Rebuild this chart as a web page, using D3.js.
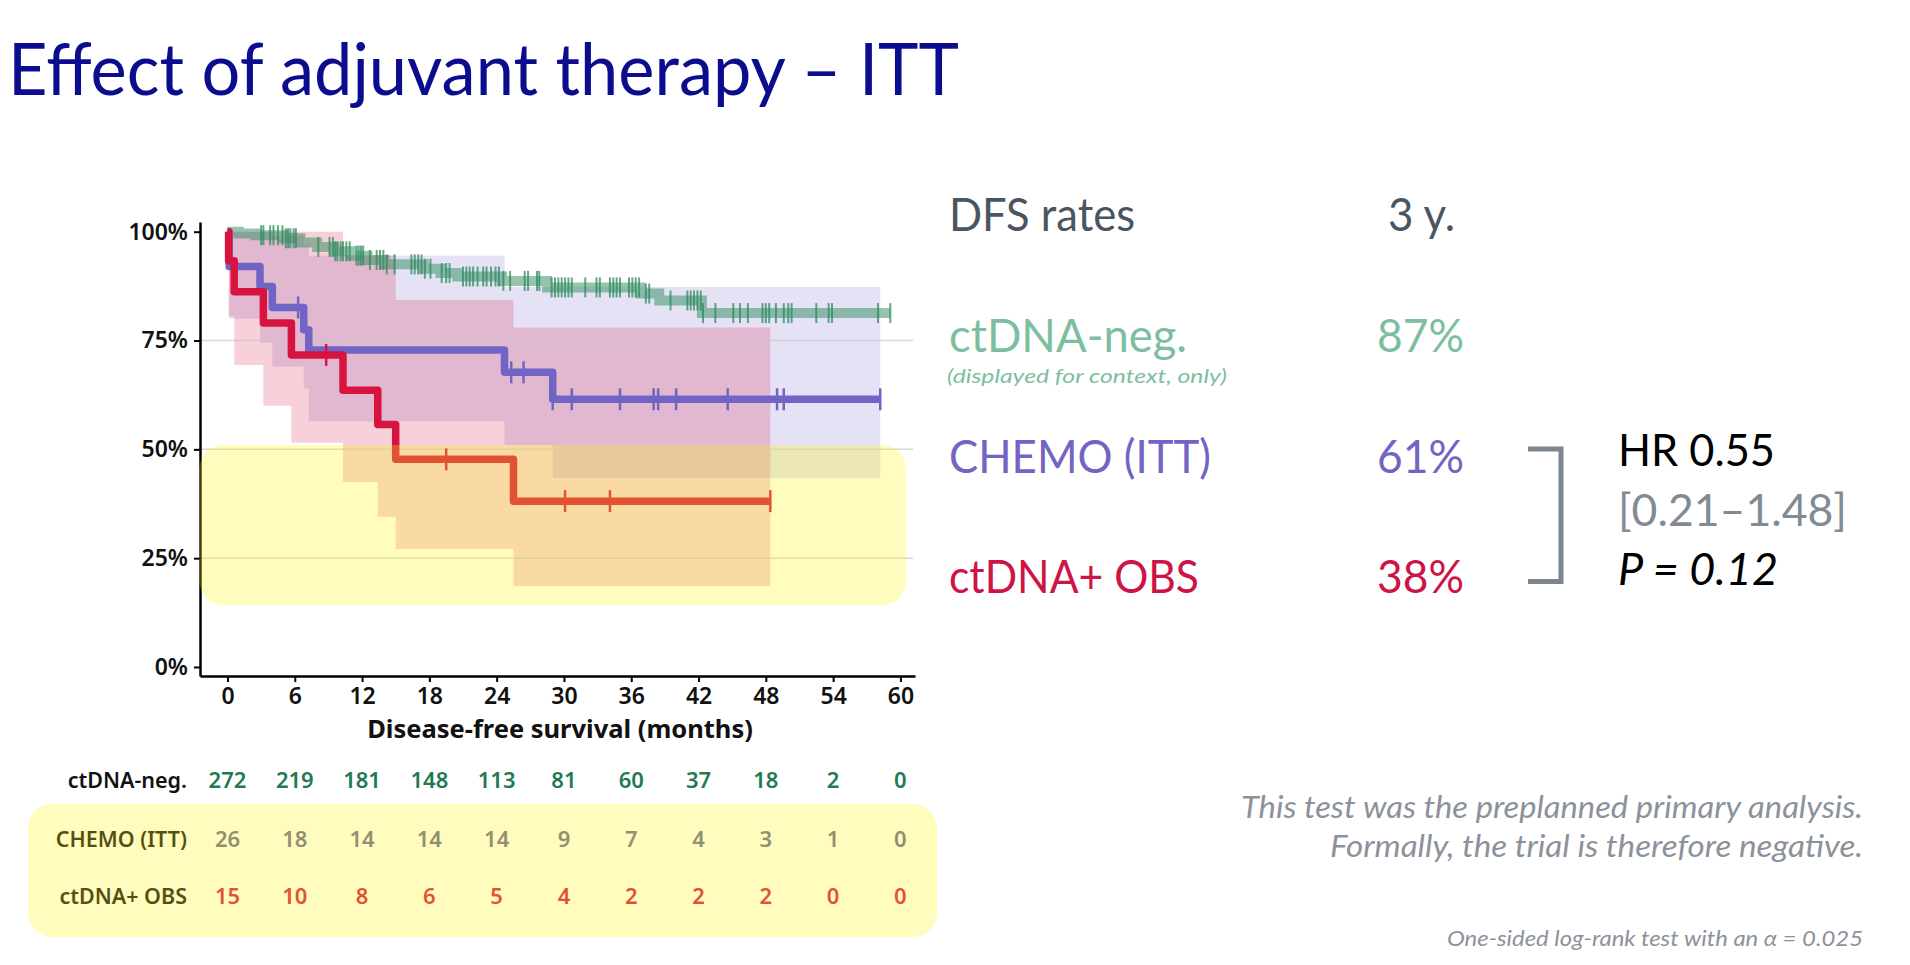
<!DOCTYPE html>
<html>
<head>
<meta charset="utf-8">
<script src="https://cdn.jsdelivr.net/npm/d3@7/dist/d3.min.js"></script>
<style>
  html, body { margin: 0; padding: 0; background: #ffffff; }
  svg { display: block; }
</style>
</head>
<body>
<svg id="chart" width="1910" height="965"></svg>
<script>
// ---------------- DATA ----------------
const monthTicks = [0, 6, 12, 18, 24, 30, 36, 42, 48, 54, 60];
const yTicks = [0, 0.25, 0.5, 0.75, 1];
const gridValues = [0.25, 0.5, 0.75];

// ctDNA-negative (context) KM curve
const negTimes = [0, 1.0, 2.5, 5.0, 6.5, 8.0, 9.5, 11.0, 12.5, 14.0, 17.5, 19.0, 20.5, 24.5, 28.5, 36.8, 38.5, 42.3];
const negSurv  = [1, 0.996, 0.992, 0.985, 0.975, 0.965, 0.955, 0.945, 0.935, 0.925, 0.915, 0.905, 0.897, 0.887, 0.872, 0.858, 0.842, 0.813];
const negEnd = 59.1;
const negCensor = [3.0, 3.2, 3.8, 4.1, 4.5, 4.9, 5.2, 5.4, 5.6, 5.9, 6.1, 8.1, 9.1, 9.4, 9.6, 9.8, 10.1, 10.3, 10.6, 10.9,
  11.5, 11.7, 11.9, 12.1, 12.7, 13.3, 13.6, 13.9, 14.2, 14.9, 16.4, 16.7, 17.0, 17.3, 17.6, 18.1, 19.1, 19.5, 19.8,
  21.0, 21.3, 21.6, 21.9, 22.3, 22.8, 23.1, 23.5, 23.9, 24.2, 24.6, 25.2, 26.5, 26.8, 27.6, 27.8, 28.9, 29.2, 29.5,
  29.8, 30.1, 30.4, 30.7, 31.9, 32.9, 33.2, 34.1, 34.4, 34.7, 35.0, 35.8, 36.1, 36.4, 36.7, 37.3, 37.6, 39.5, 41.0,
  41.3, 41.6, 41.9, 42.2, 42.4, 43.5, 45.1, 45.7, 46.4, 47.7, 48.0, 48.3, 48.9, 49.6, 50.0, 50.3, 52.5, 53.6, 53.9,
  58.0, 59.1];

// CHEMO (ITT) KM curve with CI
const chemoTimes = [0, 0.15, 2.9, 4.0, 6.8, 7.25, 24.7, 29.0];
const chemoSurv  = [1, 0.92, 0.874, 0.826, 0.775, 0.728, 0.677, 0.615];
const chemoUpper = [1, 1, 1, 0.99, 0.97, 0.945, 0.873, 0.873];
const chemoLower = [1, 0.80, 0.745, 0.69, 0.64, 0.564, 0.51, 0.434];
const chemoEnd = 58.2;
const chemoCensor = [6.3, 25.3, 26.4, 29.0, 30.7, 35.0, 38.0, 38.4, 40.0, 44.6, 49.0, 49.6, 58.2];

// ctDNA+ OBS KM curve with CI
const obsTimes = [0, 0.1, 0.6, 3.2, 5.7, 10.3, 13.4, 15.0, 25.5];
const obsSurv  = [1, 0.933, 0.862, 0.79, 0.717, 0.636, 0.557, 0.477, 0.381];
const obsUpper = [1, 1, 1, 1, 1, 0.946, 0.946, 0.843, 0.78];
const obsLower = [1, 0.805, 0.694, 0.60, 0.515, 0.425, 0.345, 0.271, 0.186];
const obsEnd = 48.4;
const obsCensor = [8.8, 19.5, 30.1, 34.1, 48.4];

// Numbers at risk
const riskLabels = ["ctDNA-neg.", "CHEMO (ITT)", "ctDNA+ OBS"];
const riskNeg   = [272, 219, 181, 148, 113, 81, 60, 37, 18, 2, 0];
const riskChemo = [26, 18, 14, 14, 14, 9, 7, 4, 3, 1, 0];
const riskObs   = [15, 10, 8, 6, 5, 4, 2, 2, 2, 0, 0];

// Right panel
const dfsGroups = ["ctDNA-neg.", "CHEMO (ITT)", "ctDNA+ OBS"];
const dfs3y = [0.87, 0.61, 0.38];
const hrLines = ["HR 0.55", "[0.21\u20131.48]", "P = 0.12"];
const notes = ["This test was the preplanned primary analysis.", "Formally, the trial is therefore negative."];
const footnote = "One-sided log-rank test with an \u03b1 = 0.025";

// highlight region (data units)
const highlight = { t0: -2.5, t1: 60.5, s0: 0.142, s1: 0.51 };

// ---------------- STYLE ----------------
const C = {
  green: "#2e8b5e", purple: "#7064c4", red: "#d6143f",
  greenText: "#7dbea0", purpleText: "#7364c3", redText: "#cd1446",
  gray: "#4b555f", bracket: "#7d858f", hrGray: "#828a94", note: "#8c929b",
  title: "#0c0c8e", yellow: "rgb(255,245,20)"
};
const chartFont = "'Noto Sans', 'DejaVu Sans', sans-serif";
const slideFont = "Lato, 'Open Sans', sans-serif";

const svg = d3.select("#chart");
svg.append("rect").attr("width", 1910).attr("height", 965).attr("fill", "#fff");

function addText(x, y, str, o) {
  const t = svg.append("text").attr("x", x).attr("y", y).text(str)
    .attr("font-family", o.family || slideFont)
    .attr("font-size", o.size)
    .attr("fill", o.fill || "#000")
    .attr("font-weight", o.weight || 400)
    .attr("font-style", o.style || "normal")
    .attr("text-anchor", o.anchor || "start");
  if (o.len) t.attr("textLength", o.len).attr("lengthAdjust", "spacingAndGlyphs");
  return t;
}
// Title
addText(8, 95, "Effect of adjuvant therapy \u2013 ITT", { size: 72, fill: C.title, len: 951 });

// ---------------- SCALES ----------------
const x = d3.scaleLinear().domain([-2.45, 61.3]).range([200, 915]);
const y = d3.scaleLinear().domain([-0.0207, 1.0223]).range([676, 222]);

const g = svg.append("g");

function pts(times, surv, end) {
  const p = times.map((t, i) => [t, surv[i]]);
  p.push([end, surv[surv.length - 1]]);
  return p;
}
function bandPts(times, lo, hi, end) {
  const p = times.map((t, i) => [t, lo[i], hi[i]]);
  p.push([end, lo[lo.length - 1], hi[hi.length - 1]]);
  return p;
}
function stepAt(times, surv, t) {
  const i = Math.max(0, d3.bisectRight(times, t) - 1);
  return surv[i];
}
const line = d3.line().x(d => x(d[0])).y(d => y(d[1])).curve(d3.curveStepAfter);
const area = d3.area().x(d => x(d[0])).y0(d => y(d[1])).y1(d => y(d[2])).curve(d3.curveStepAfter);

// CI bands
g.append("path").attr("d", area(bandPts(chemoTimes, chemoLower, chemoUpper, chemoEnd)))
  .attr("fill", C.purple).attr("fill-opacity", 0.19);
g.append("path").attr("d", area(bandPts(obsTimes, obsLower, obsUpper, obsEnd)))
  .attr("fill", C.red).attr("fill-opacity", 0.2);

// gridlines
g.selectAll("line.grid").data(gridValues).join("line").attr("class", "grid")
  .attr("x1", x.range()[0]).attr("x2", x.range()[1] - 2)
  .attr("y1", d => y(d)).attr("y2", d => y(d))
  .attr("stroke", "#c8c8c8").attr("stroke-opacity", 0.7).attr("stroke-width", 1.5);

// ctDNA-neg curve
g.append("path").attr("d", line(pts(negTimes, negSurv, negEnd)))
  .attr("fill", "none").attr("stroke", C.green).attr("stroke-opacity", 0.5)
  .attr("stroke-width", 10);
g.selectAll("line.negc").data(negCensor).join("line").attr("class", "negc")
  .attr("x1", d => x(d)).attr("x2", d => x(d))
  .attr("y1", d => y(stepAt(negTimes, negSurv, d)) - 10)
  .attr("y2", d => y(stepAt(negTimes, negSurv, d)) + 10)
  .attr("stroke", C.green).attr("stroke-opacity", 0.75).attr("stroke-width", 2);

// CHEMO curve
g.append("path").attr("d", line(pts(chemoTimes, chemoSurv, chemoEnd)))
  .attr("fill", "none").attr("stroke", C.purple).attr("stroke-width", 7.5)
  .attr("stroke-linejoin", "round");
g.selectAll("line.chc").data(chemoCensor).join("line").attr("class", "chc")
  .attr("x1", d => x(d)).attr("x2", d => x(d))
  .attr("y1", d => y(stepAt(chemoTimes, chemoSurv, d)) - 11)
  .attr("y2", d => y(stepAt(chemoTimes, chemoSurv, d)) + 11)
  .attr("stroke", C.purple).attr("stroke-width", 2.5);

// OBS curve
g.append("path").attr("d", line(pts(obsTimes, obsSurv, obsEnd)))
  .attr("fill", "none").attr("stroke", C.red).attr("stroke-width", 7.5)
  .attr("stroke-linejoin", "round");
g.selectAll("line.obc").data(obsCensor).join("line").attr("class", "obc")
  .attr("x1", d => x(d)).attr("x2", d => x(d))
  .attr("y1", d => y(stepAt(obsTimes, obsSurv, d)) - 11)
  .attr("y2", d => y(stepAt(obsTimes, obsSurv, d)) + 11)
  .attr("stroke", C.red).attr("stroke-width", 2.5);

// Axes
const yAxis = d3.axisLeft(y).tickValues(yTicks).tickFormat(d3.format(".0%"))
  .tickSize(6).tickPadding(6).tickSizeOuter(0);
const xAxis = d3.axisBottom(x).tickValues(monthTicks).tickFormat(d3.format("d"))
  .tickSize(6).tickPadding(6).tickSizeOuter(0);
const gy = g.append("g").attr("transform", "translate(200,0)").call(yAxis);
const gx = g.append("g").attr("transform", "translate(0,676)").call(xAxis);
[gx, gy].forEach(a => {
  a.select(".domain").attr("stroke", "#000").attr("stroke-width", 2.5);
  a.selectAll(".tick line").attr("stroke", "#000").attr("stroke-width", 2);
  a.selectAll(".tick text").attr("font-family", chartFont).attr("font-size", 23)
    .attr("font-weight", 600).attr("fill", "#111");
});
g.append("text").attr("x", 560).attr("y", 738).attr("text-anchor", "middle")
  .attr("font-family", chartFont).attr("font-size", 25.5).attr("font-weight", 700)
  .attr("fill", "#111").text("Disease-free survival (months)");

// Chart highlight overlay
g.append("rect")
  .attr("x", x(highlight.t0)).attr("y", y(highlight.s1))
  .attr("width", x(highlight.t1) - x(highlight.t0))
  .attr("height", y(highlight.s0) - y(highlight.s1))
  .attr("rx", 24).attr("ry", 24)
  .attr("fill", C.yellow).attr("fill-opacity", 0.28);

// ---------------- RISK TABLE ----------------
const riskRows = [riskNeg, riskChemo, riskObs];
const riskColors = ["#1f7a52", "rgb(105,105,150)", C.red];
const rowY = [788, 846.7, 904.3];
const tbl = svg.append("g");
riskLabels.forEach((lab, r) => {
  tbl.append("text").attr("x", 187).attr("y", rowY[r]).attr("text-anchor", "end")
    .attr("font-family", chartFont).attr("font-size", 21.5).attr("font-weight", 600)
    .attr("fill", "#111").text(lab);
  tbl.selectAll("text.n" + r).data(riskRows[r]).join("text").attr("class", "n" + r)
    .attr("x", (d, i) => x(monthTicks[i])).attr("y", rowY[r]).attr("text-anchor", "middle")
    .attr("font-family", chartFont).attr("font-size", 22).attr("font-weight", 600)
    .attr("fill", riskColors[r]).text(d => d);
});
tbl.append("rect").attr("x", 28).attr("y", 804).attr("width", 909).attr("height", 133)
  .attr("rx", 24).attr("ry", 24).attr("fill", C.yellow).attr("fill-opacity", 0.28);

// ---------------- RIGHT PANEL ----------------
const pct = d3.format(".0%");
addText(949, 231, "DFS rates", { size: 47, fill: C.gray, len: 186 });
addText(1388, 231, "3 y.", { size: 47, fill: C.gray, len: 67 });
const grpColors = [C.greenText, C.purpleText, C.redText];
const grpY = [352, 473, 593];
const grpLen = [238, 262, 250];
dfsGroups.forEach((name, i) => {
  addText(949, grpY[i], name, { size: 47, fill: grpColors[i], len: grpLen[i] });
  addText(1377, grpY[i], pct(dfs3y[i]), { size: 47, fill: grpColors[i], len: 87 });
});
addText(947, 383, "(displayed for context, only)", { size: 20, fill: C.greenText, style: "italic", len: 280 });

// bracket
svg.append("path")
  .attr("d", d3.line()([[1528, 449], [1561, 449], [1561, 581.5], [1528, 581.5]]))
  .attr("fill", "none").attr("stroke", C.bracket).attr("stroke-width", 5);

addText(1618, 466, hrLines[0], { size: 45, fill: "#000", len: 157 });
addText(1618, 526, hrLines[1], { size: 45, fill: C.hrGray, len: 229 });
addText(1618, 585, hrLines[2], { size: 45, fill: "#000", style: "italic", len: 160 });

addText(1863, 818, notes[0], { size: 30, fill: C.note, style: "italic", anchor: "end", len: 622 });
addText(1863, 857, notes[1], { size: 30, fill: C.note, style: "italic", anchor: "end", len: 533 });
addText(1863, 946, footnote, { size: 22, fill: C.note, style: "italic", anchor: "end", len: 416 });
</script>
</body>
</html>
